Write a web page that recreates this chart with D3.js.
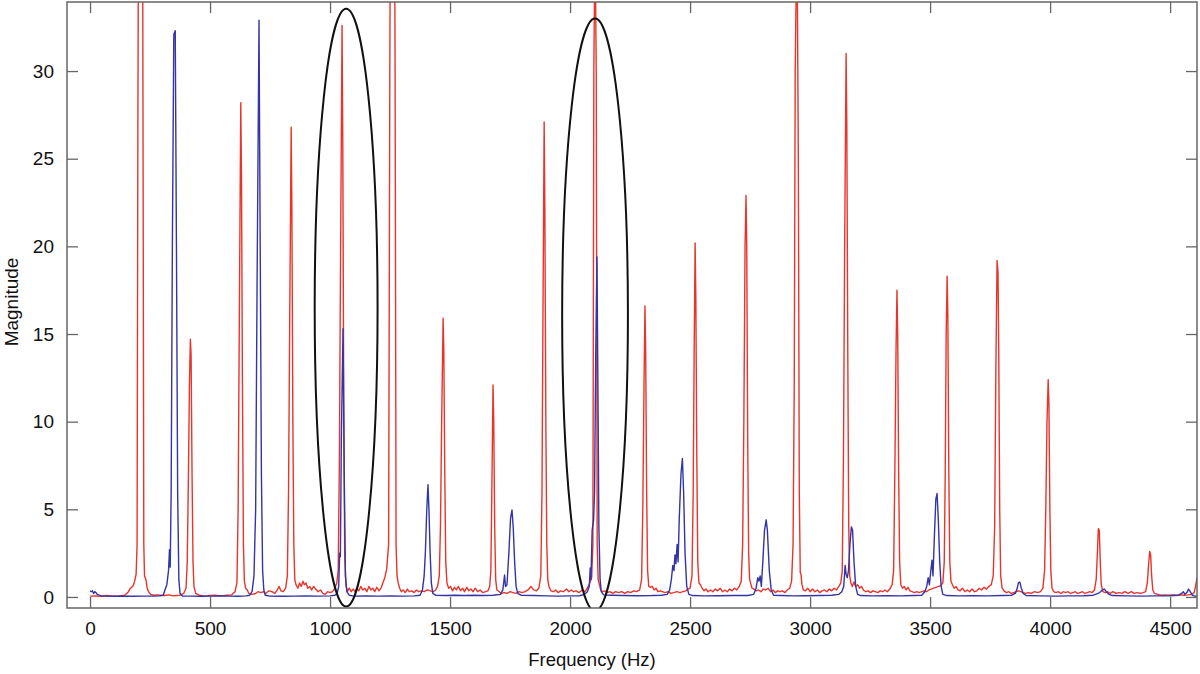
<!DOCTYPE html>
<html>
<head>
<meta charset="utf-8">
<script src="https://cdn.jsdelivr.net/npm/d3@7/dist/d3.min.js"></script>
<style>
html,body{margin:0;padding:0;background:#fff;}
svg{display:block;}
text{font-family:"Liberation Sans",Arial,Helvetica,sans-serif;fill:#111;}
</style>
</head>
<body>
<svg id="chart" width="1200" height="674"></svg>
<script>
// ---- data ----
const xTicks = [0,500,1000,1500,2000,2500,3000,3500,4000,4500];
const yTicks = [0,5,10,15,20,25,30];
const xDomain = [-96, 4612];
const yDomain = [-0.63, 33.94];

// red spectrum: [frequency Hz, magnitude]
const redSeries = [
[0,0.05],[20,0.06],[45,0.04],[70,0.08],[95,0.05],[120,0.06],[145,0.1],[160,0.3],[168,0.5],[178,0.6],[186,0.9],[192,1.3],[196,3],[199,25],[203,45],[210,50],[218,45],[221,25],[224,3],[227,1.2],[230,1.1],[234,0.9],[238,0.5],[244,0.3],[252,0.15],[265,0.1],[280,0.12],[295,0.1],[310,0.08],[330,0.12],[345,0.06],[360,0.08],[375,0.1],[390,0.2],[400,0.5],[405,2],[410,7],[414,12],[418,14.7],[421,13.8],[425,7],[429,2],[433,0.6],[440,0.2],[455,0.1],[480,0.05],[500,0.08],[520,0.1],[545,0.06],[570,0.1],[590,0.12],[604,0.3],[612,0.8],[617,5],[622,16],[628,28.2],[631,24],[635,12],[639,3],[643,0.9],[648,0.5],[655,0.4],[662,0.2],[675,0.15],[690,0.2],[700,0.3],[712,0.25],[722,0.3],[732,0.2],[745,0.35],[758,0.3],[770,0.2],[780,0.4],[788,0.6],[795,0.35],[805,0.3],[815,0.5],[822,1.2],[827,6],[832,16],[838,26.8],[841,22],[845,10],[849,3],[853,1],[858,0.7],[866,0.5],[873,0.8],[880,0.6],[887,0.9],[893,0.7],[900,0.8],[907,0.5],[915,0.6],[923,0.4],[932,0.6],[940,0.45],[950,0.3],[960,0.4],[970,0.2],[980,0.15],[990,0.3],[1000,0.25],[1010,0.3],[1020,0.5],[1028,0.8],[1034,1.5],[1039,8],[1044,20],[1050,32.6],[1053,26],[1057,11],[1061,2.5],[1066,0.7],[1072,0.3],[1080,0.5],[1088,0.3],[1096,0.45],[1104,0.3],[1112,0.5],[1120,0.35],[1128,0.6],[1136,0.4],[1145,0.5],[1153,0.3],[1162,0.6],[1170,0.4],[1178,0.5],[1186,0.3],[1195,0.55],[1204,0.35],[1212,0.5],[1220,0.8],[1228,1.1],[1236,1.6],[1244,3],[1249,30],[1253,45],[1260,50],[1267,45],[1271,30],[1275,3],[1279,1.2],[1284,0.8],[1290,0.5],[1297,0.3],[1305,0.4],[1313,0.25],[1322,0.45],[1330,0.3],[1340,0.35],[1350,0.25],[1360,0.4],[1370,0.3],[1380,0.35],[1392,0.3],[1405,0.4],[1418,0.35],[1430,0.3],[1440,0.4],[1448,0.6],[1455,1.2],[1460,4],[1465,10],[1471,15.9],[1474,14],[1478,7],[1482,2],[1487,0.8],[1494,0.5],[1502,0.6],[1510,0.35],[1518,0.55],[1526,0.4],[1535,0.6],[1543,0.35],[1552,0.5],[1560,0.3],[1570,0.55],[1578,0.35],[1587,0.45],[1596,0.3],[1605,0.5],[1615,0.3],[1625,0.4],[1636,0.25],[1648,0.3],[1658,0.35],[1665,0.6],[1670,1.5],[1674,6],[1679,12.1],[1682,10],[1686,4],[1690,1],[1695,0.4],[1705,0.3],[1715,0.2],[1725,0.25],[1738,0.2],[1750,0.3],[1762,0.25],[1775,0.2],[1788,0.3],[1800,0.25],[1812,0.3],[1825,0.4],[1837,0.6],[1848,0.4],[1860,0.35],[1870,0.5],[1878,1.2],[1883,6],[1887,16],[1892,27.1],[1895,22],[1899,10],[1903,3],[1907,1],[1912,0.6],[1920,0.35],[1930,0.3],[1940,0.4],[1950,0.25],[1960,0.35],[1972,0.3],[1985,0.45],[1995,0.3],[2005,0.4],[2015,0.3],[2025,0.35],[2038,0.25],[2050,0.4],[2062,0.3],[2072,0.5],[2082,0.8],[2090,1.1],[2095,3],[2099,30],[2104,38],[2109,30],[2113,3],[2117,1],[2122,0.7],[2128,0.4],[2135,0.3],[2145,0.35],[2155,0.25],[2165,0.3],[2178,0.2],[2190,0.3],[2202,0.25],[2215,0.3],[2228,0.2],[2240,0.3],[2252,0.25],[2265,0.35],[2278,0.3],[2290,0.4],[2298,1],[2303,5],[2308,12],[2312,16.6],[2315,14],[2319,6],[2323,1.5],[2328,0.6],[2335,0.55],[2342,0.6],[2350,0.4],[2358,0.5],[2366,0.3],[2375,0.35],[2385,0.3],[2395,0.25],[2408,0.3],[2420,0.2],[2432,0.25],[2445,0.3],[2458,0.25],[2470,0.3],[2482,0.35],[2492,0.45],[2500,0.5],[2508,1.2],[2513,6],[2517,14],[2521,20.2],[2524,17],[2528,8],[2532,2],[2537,0.8],[2543,0.7],[2550,0.5],[2558,0.35],[2566,0.45],[2575,0.3],[2585,0.4],[2595,0.3],[2605,0.45],[2615,0.35],[2625,0.5],[2635,0.3],[2645,0.4],[2655,0.3],[2665,0.45],[2675,0.35],[2685,0.5],[2695,0.4],[2705,0.6],[2713,0.9],[2719,3],[2724,10],[2729,20],[2733,22.9],[2736,20],[2740,9],[2744,2.5],[2748,1],[2752,0.8],[2758,0.5],[2766,0.45],[2775,0.35],[2785,0.4],[2795,0.3],[2805,0.45],[2815,0.4],[2825,0.5],[2835,0.3],[2845,0.4],[2855,0.25],[2865,0.35],[2875,0.3],[2885,0.35],[2895,0.25],[2905,0.4],[2915,0.5],[2923,0.9],[2929,3],[2934,12],[2938,30],[2943,36],[2947,34.5],[2951,25],[2955,6],[2959,1.4],[2962,1.3],[2966,0.7],[2972,0.4],[2980,0.35],[2990,0.5],[3000,0.3],[3010,0.45],[3020,0.3],[3030,0.4],[3040,0.25],[3050,0.35],[3060,0.4],[3070,0.3],[3080,0.45],[3090,0.35],[3100,0.5],[3110,0.4],[3120,0.6],[3128,0.8],[3134,1.5],[3139,8],[3144,20],[3150,31.0],[3153,27],[3157,14],[3161,4],[3165,1.2],[3170,0.8],[3176,0.6],[3183,0.85],[3190,0.6],[3198,0.7],[3206,0.5],[3214,0.6],[3222,0.4],[3232,0.3],[3242,0.35],[3252,0.25],[3262,0.35],[3272,0.3],[3282,0.25],[3292,0.35],[3302,0.3],[3312,0.4],[3322,0.3],[3332,0.45],[3342,0.7],[3348,1.5],[3353,7],[3358,14],[3362,17.5],[3365,15],[3369,7],[3373,2],[3378,0.7],[3385,0.5],[3392,0.6],[3400,0.4],[3408,0.55],[3416,0.35],[3425,0.3],[3435,0.25],[3445,0.3],[3455,0.25],[3465,0.3],[3475,0.35],[3485,0.3],[3495,0.4],[3505,0.45],[3515,0.5],[3525,0.55],[3535,0.6],[3545,0.65],[3553,0.8],[3559,2],[3563,7],[3567,15],[3571,18.3],[3574,16],[3578,7],[3582,2],[3587,0.9],[3593,0.7],[3600,0.5],[3608,0.6],[3616,0.4],[3625,0.35],[3635,0.5],[3645,0.3],[3655,0.4],[3665,0.3],[3675,0.45],[3685,0.3],[3695,0.35],[3705,0.5],[3715,0.4],[3725,0.55],[3735,0.45],[3745,0.6],[3755,0.7],[3763,1.2],[3769,4],[3774,13],[3779,19.2],[3783,18.5],[3786,14],[3790,5],[3794,1.2],[3800,0.5],[3808,0.35],[3818,0.25],[3828,0.3],[3838,0.2],[3848,0.25],[3858,0.3],[3868,0.35],[3878,0.3],[3888,0.25],[3898,0.2],[3910,0.25],[3922,0.2],[3935,0.3],[3948,0.25],[3960,0.3],[3970,0.5],[3977,1.5],[3982,5],[3987,10],[3992,12.4],[3995,11],[3999,5],[4003,1.5],[4008,0.5],[4015,0.3],[4025,0.25],[4035,0.3],[4045,0.2],[4055,0.3],[4065,0.25],[4075,0.3],[4085,0.2],[4095,0.25],[4105,0.3],[4115,0.2],[4125,0.25],[4135,0.3],[4145,0.2],[4155,0.25],[4165,0.3],[4175,0.25],[4185,0.4],[4192,1],[4197,2.5],[4201,3.9],[4205,3.8],[4209,2],[4213,0.7],[4220,0.3],[4230,0.25],[4240,0.3],[4250,0.2],[4262,0.3],[4275,0.2],[4288,0.25],[4300,0.2],[4312,0.3],[4325,0.2],[4338,0.3],[4350,0.2],[4362,0.25],[4375,0.2],[4388,0.25],[4398,0.3],[4405,0.8],[4410,1.8],[4415,2.6],[4419,2.4],[4423,1.2],[4428,0.4],[4435,0.2],[4448,0.15],[4462,0.1],[4478,0.12],[4495,0.1],[4512,0.12],[4528,0.1],[4545,0.12],[4560,0.1],[4575,0.12],[4590,0.15],[4600,0.25],[4606,0.6],[4612,1.1]
];

// blue spectrum: [frequency Hz, magnitude]
const blueSeries = [
[0,0.35],[5,0.3],[10,0.35],[15,0.2],[20,0.3],[25,0.25],[30,0.15],[38,0.1],[50,0.05],[70,0.05],[100,0.04],[140,0.05],[180,0.04],[220,0.05],[260,0.05],[290,0.06],[305,0.1],[312,0.4],[320,0.7],[327,1.5],[331,2.7],[334,1.7],[338,6],[343,20],[349,32.1],[355,32.3],[360,20],[365,6],[370,1],[375,0.2],[385,0.05],[420,0.05],[460,0.04],[500,0.05],[540,0.06],[580,0.05],[620,0.04],[650,0.06],[665,0.1],[675,0.3],[683,1.2],[690,5],[696,18],[704,32.9],[709,20],[714,7],[719,1.5],[724,0.4],[730,0.1],[750,0.05],[800,0.04],[850,0.05],[900,0.06],[950,0.05],[1000,0.06],[1020,0.1],[1030,0.2],[1036,0.6],[1040,2.5],[1043,2.3],[1047,9],[1054,15.3],[1059,7],[1064,1.2],[1070,0.3],[1080,0.1],[1100,0.05],[1150,0.06],[1200,0.05],[1250,0.06],[1300,0.05],[1350,0.06],[1375,0.1],[1385,0.4],[1392,1.2],[1397,2.5],[1403,5],[1408,6.4],[1412,5],[1417,2.5],[1422,0.8],[1428,0.2],[1440,0.1],[1480,0.08],[1520,0.1],[1560,0.08],[1600,0.1],[1640,0.08],[1680,0.1],[1710,0.15],[1720,0.4],[1727,1.25],[1731,0.6],[1737,0.7],[1745,2.5],[1752,4.5],[1758,4.96],[1763,4],[1769,2],[1775,0.6],[1782,0.2],[1795,0.1],[1850,0.08],[1900,0.06],[1950,0.05],[2000,0.06],[2040,0.07],[2060,0.15],[2072,0.3],[2080,0.6],[2084,1.65],[2087,1.0],[2092,3.8],[2098,4.4],[2102,6],[2107,14],[2112,19.4],[2116,12],[2120,4],[2125,1],[2130,0.3],[2140,0.12],[2170,0.1],[2220,0.08],[2280,0.07],[2340,0.08],[2380,0.1],[2405,0.15],[2415,0.4],[2422,1.0],[2428,1.8],[2433,1.5],[2437,2.4],[2441,1.9],[2446,3.0],[2450,2.0],[2455,4.5],[2462,7],[2468,7.9],[2473,6],[2479,2.5],[2486,0.6],[2495,0.15],[2510,0.08],[2560,0.06],[2620,0.07],[2680,0.08],[2740,0.08],[2765,0.15],[2775,0.5],[2782,1.1],[2787,0.9],[2792,1.2],[2797,0.6],[2803,2],[2810,3.8],[2817,4.4],[2822,3.8],[2830,1.5],[2838,0.4],[2848,0.1],[2880,0.08],[2930,0.06],[2980,0.07],[3040,0.08],[3090,0.1],[3120,0.15],[3132,0.3],[3140,0.6],[3146,1.8],[3150,1.3],[3155,1.1],[3160,1.5],[3166,3],[3172,4.0],[3177,3.8],[3183,2],[3190,0.6],[3198,0.15],[3210,0.08],[3260,0.06],[3320,0.07],[3380,0.06],[3430,0.08],[3465,0.1],[3478,0.3],[3486,0.6],[3492,1.1],[3497,0.7],[3503,1.5],[3508,2.1],[3512,1.2],[3518,3.5],[3524,5.6],[3529,5.9],[3534,4.5],[3540,2],[3546,0.6],[3553,0.15],[3570,0.08],[3620,0.06],[3680,0.07],[3740,0.06],[3800,0.08],[3840,0.1],[3855,0.2],[3862,0.45],[3868,0.8],[3874,0.85],[3880,0.5],[3888,0.2],[3900,0.08],[3960,0.06],[4020,0.05],[4080,0.06],[4140,0.07],[4180,0.1],[4200,0.2],[4210,0.3],[4218,0.4],[4226,0.45],[4234,0.3],[4245,0.15],[4260,0.08],[4320,0.06],[4380,0.05],[4440,0.06],[4500,0.07],[4535,0.1],[4548,0.2],[4555,0.3],[4562,0.15],[4570,0.25],[4577,0.45],[4584,0.3],[4592,0.1],[4605,0.05],[4612,0.05]
];

// highlight ellipses: [centre Hz, centre magnitude, x radius Hz, y radius magnitude]
const ellipses = [
  [1067, 16.5, 131, 17.05],
  [2104, 16.1, 137, 16.9]
];

const xLabel = "Frequency (Hz)";
const yLabel = "Magnitude";

// ---- layout ----
const pLeft = 67, pRight = 1197, pTop = 2, pBottom = 608;
const svg = d3.select("#chart");

const x = d3.scaleLinear().domain(xDomain).range([pLeft, pRight]);
const y = d3.scaleLinear().domain(yDomain).range([pBottom, pTop]);

svg.append("defs").append("clipPath").attr("id","plotclip")
  .append("rect").attr("x",pLeft).attr("y",pTop).attr("width",pRight-pLeft).attr("height",pBottom-pTop);

const plot = svg.append("g").attr("clip-path","url(#plotclip)");

const line = d3.line().x(d => x(d[0])).y(d => y(d[1]));

plot.append("path").datum(redSeries)
  .attr("d", line).attr("fill","none")
  .attr("stroke","#e8352c").attr("stroke-width",1.4).attr("stroke-linejoin","round");

plot.append("path").datum(blueSeries)
  .attr("d", line).attr("fill","none")
  .attr("stroke","#3434a6").attr("stroke-width",1.4).attr("stroke-linejoin","round");

plot.selectAll("ellipse.hl").data(ellipses).enter().append("ellipse")
  .attr("class","hl")
  .attr("cx", d => x(d[0]))
  .attr("cy", d => y(d[1]))
  .attr("rx", d => x(d[0] + d[2]) - x(d[0]))
  .attr("ry", d => y(d[1] - d[3]) - y(d[1]))
  .attr("fill","none").attr("stroke","#111").attr("stroke-width",2);

// ---- axes (ticks inward on all four sides) ----
const axisColor = "#666";
const tickLen = 11;

const gBottom = svg.append("g").attr("transform",`translate(0,${pBottom})`)
  .call(d3.axisBottom(x).tickValues(xTicks).tickSize(-tickLen).tickPadding(14).tickFormat(d3.format("d")));
const gTop = svg.append("g").attr("transform",`translate(0,${pTop})`)
  .call(d3.axisTop(x).tickValues(xTicks).tickSize(-tickLen).tickFormat(""));
const gLeft = svg.append("g").attr("transform",`translate(${pLeft},0)`)
  .call(d3.axisLeft(y).tickValues(yTicks).tickSize(-tickLen).tickPadding(13).tickFormat(d3.format("d")));
const gRight = svg.append("g").attr("transform",`translate(${pRight},0)`)
  .call(d3.axisRight(y).tickValues(yTicks).tickSize(-tickLen).tickFormat(""));

[gBottom,gTop,gLeft,gRight].forEach(g => {
  g.select(".domain").remove();
  g.selectAll(".tick line").attr("stroke",axisColor).attr("stroke-width",1.3);
  g.selectAll(".tick text").attr("font-size",19).attr("fill","#111")
    .attr("font-family",'"Liberation Sans",Arial,Helvetica,sans-serif');
});

svg.append("rect").attr("x",pLeft).attr("y",pTop).attr("width",pRight-pLeft).attr("height",pBottom-pTop)
  .attr("fill","none").attr("stroke",axisColor).attr("stroke-width",1.5);

svg.append("text").attr("x",(pLeft+pRight)/2 - 40).attr("y",666)
  .attr("text-anchor","middle").attr("font-size",18.5).text(xLabel);

svg.append("text").attr("transform","translate(18,302) rotate(-90)")
  .attr("text-anchor","middle").attr("font-size",19).text(yLabel);
</script>
</body>
</html>
